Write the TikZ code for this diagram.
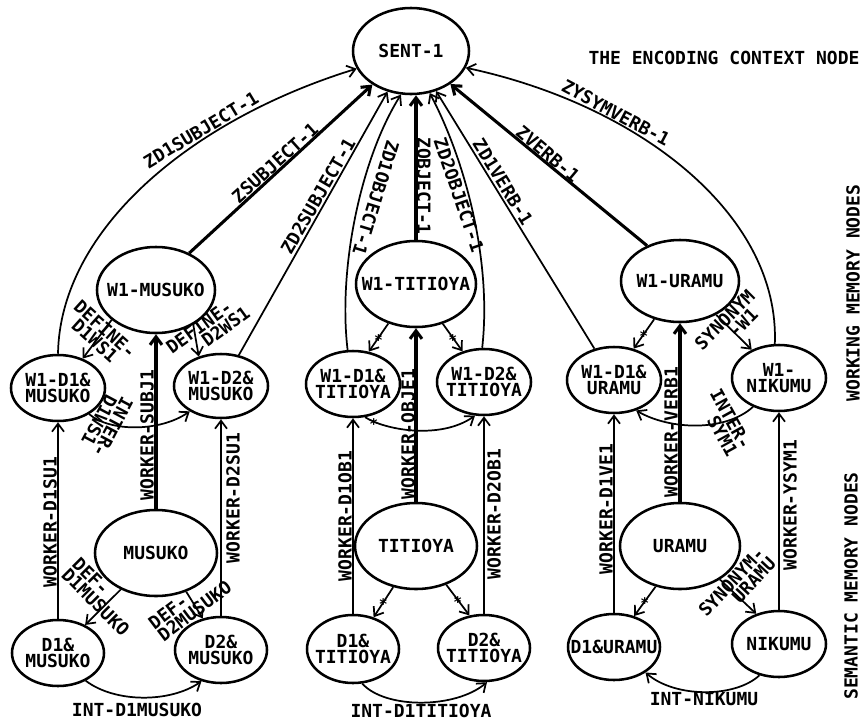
\documentclass[tikz,border=0pt]{standalone}
\usepackage{fontspec}
\setmonofont{DejaVu Sans Mono}
\usetikzlibrary{arrows.meta,shapes.geometric}
\begin{document}
\begin{tikzpicture}[x=0.75pt,y=-0.75pt,
  every node/.style={font=\ttfamily\bfseries\fontsize{13.5}{11.5}\selectfont},
  en/.style 2 args={ellipse,draw,line width=1.9pt,minimum width=#1*0.75pt,minimum height=#2*0.75pt,inner xsep=-40pt,inner ysep=-15pt,align=center},
  ln/.style={line width=1.3pt},
  tk/.style={line width=2.3pt},
  arr/.style={-{Straight Barb[length=6pt,width=9pt]}},
  lab/.style={inner sep=0pt,align=center},
  labl/.style={inner sep=0pt,align=left},
  labr/.style={inner sep=0pt,align=right},
  star/.style={inner sep=0pt,yshift=-1.5pt,font=\ttfamily\bfseries\fontsize{11}{11}\selectfont}
]
\useasboundingbox (0,0) rectangle (864,722);

% nodes
\node[en={116}{86}] (sent) at (411,51) {SENT-1};
\node[lab] (title) at (724,58) {THE ENCODING CONTEXT NODE};

\node[en={118}{86}] (w1m) at (156,290) {W1-MUSUKO};
\node[en={94}{66}] (w1d1m) at (58,388) {W1-D1\&\\MUSUKO};
\node[en={94}{64}] (w1d2m) at (221,386) {W1-D2\&\\MUSUKO};
\node[en={120}{86}] (w1t) at (416,284) {W1-TITIOYA};
\node[en={94}{66}] (w1d1t) at (353,384) {W1-D1\&\\TITIOYA};
\node[en={94}{66}] (w1d2t) at (484,382) {W1-D2\&\\TITIOYA};
\node[en={118}{82}] (w1u) at (680,281) {W1-URAMU};
\node[en={94}{66}] (w1d1u) at (614,380) {W1-D1\&\\URAMU};
\node[en={94}{66}] (w1n) at (779,378) {W1-\\NIKUMU};

\node[en={122}{86}] (musuko) at (156,553) {MUSUKO};
\node[en={92}{66}] (d1m) at (58,653) {D1\&\\MUSUKO};
\node[en={92}{66}] (d2m) at (221,650) {D2\&\\MUSUKO};
\node[en={122}{86}] (titioya) at (416,546) {TITIOYA};
\node[en={92}{68}] (d1t) at (353,649) {D1\&\\TITIOYA};
\node[en={92}{66}] (d2t) at (484,648) {D2\&\\TITIOYA};
\node[en={120}{86}] (uramu) at (680,546) {URAMU};
\node[en={92}{66}] (d1u) at (614,647) {D1\&URAMU};
\node[en={94}{66}] (nikumu) at (779,644) {NIKUMU};

\node[lab,rotate=90] (wmn) at (853,293) {WORKING MEMORY NODES};
\node[lab,rotate=90] (smn) at (851,586) {SEMANTIC MEMORY NODES};

% edges to the context node
\draw[ln,arr] (w1d1m.north) .. controls (60,230) and (190,120) .. (sent.198);
\draw[tk,arr] (w1m.48) -- (sent.221);
\draw[ln,arr] (w1d2m.60) -- (sent.240);
\draw[ln,arr] (w1d1t.99) .. controls (338,270) and (360,160) .. (sent.257);
\draw[tk,arr] (w1t.north) -- (w1t.north |- sent.south);
\draw[ln,arr] (w1d2t.93) .. controls (492,260) and (465,160) .. (sent.294);
\draw[ln,arr] (w1d1u.122) -- (sent.302);
\draw[tk,arr] (w1u.133) -- (sent.320);
\draw[ln,arr] (w1n.97) .. controls (780,215) and (640,105) .. (sent.343);

\node[lab,rotate=31] (lzd1s) at (201,130) {ZD1SUBJECT-1};
\node[lab,rotate=42] (lzs) at (275,163) {ZSUBJECT-1};
\node[lab,rotate=60] (lzd2s) at (318,196) {ZD2SUBJECT-1};
\node[lab,rotate=-107] (lzd1o) at (376,198) {ZD1OBJECT-1};
\node[lab,rotate=-90] (lzo) at (424,186) {ZOBJECT-1};
\node[lab,rotate=-71] (lzd2o) at (459,195) {ZD2OBJECT-1};
\node[lab,rotate=-58.5] (lzd1v) at (503,182) {ZD1VERB-1};
\node[lab,rotate=-40] (lzv) at (548,154) {ZVERB-1};
\node[lab,rotate=-28] (lzy) at (616,113) {ZYSYMVERB-1};

% working memory edges
\draw[ln,arr] (w1m.214) -- (w1d1m.50);
\draw[ln,arr] (w1m.317) -- (w1d2m.127);
\draw[ln,arr] (w1d1m.-40) .. controls (110,432) and (160,432) .. (w1d2m.219);
\node[lab,rotate=-42] (ldef1) at (100,335) {DEFINE-\\D1WS1};
\node[labl,rotate=36] (ldef2) at (208,330) {DEFINE-\\\phantom{DEF}D2WS1};
\node[lab,rotate=-118] (lint1) at (106,424) {INTER-\\D1WS1};

\draw[ln,arr] (w1t.235) -- node[star] (s1) {*} (w1d1t.64);
\draw[ln,arr] (w1t.304) -- node[star] (s2) {*} (w1d2t.125);
\draw[ln,arr] (w1d1t.290) .. controls (385,430) and (440,440) .. node[star,pos=0.12] (s3) {*} (w1d2t.255);

\draw[ln,arr] (w1u.236) -- node[star] (s4) {*} (w1d1u.58);
\draw[ln,arr] (w1u.317) -- (w1n.134);
\draw[ln,arr] (w1n.228) .. controls (725,432) and (670,430) .. (w1d1u.306);
\node[labl,rotate=45] (lsyn1) at (730,325) {SYNONYM\\\phantom{SYN}-W1};
\node[labr,rotate=-61] (lint2) at (724,423) {INTER-\\SYM1};

% worker links
\draw[ln,arr] (d1m) -- (w1d1m);
\draw[tk,arr] (musuko) -- (w1m);
\draw[ln,arr] (d2m) -- (w1d2m);
\draw[ln,arr] (d1t) -- (w1d1t);
\draw[tk,arr] (titioya) -- (w1t);
\draw[ln,arr] (d2t) -- (w1d2t);
\draw[ln,arr] (d1u) -- (w1d1u);
\draw[tk,arr] (uramu) -- (w1u);
\draw[ln,arr] (nikumu) -- (w1n);

\node[lab,rotate=90] (lw1) at (50,522) {WORKER-D1SU1};
\node[lab,rotate=90] (lw2) at (147,435) {WORKER-SUBJ1};
\node[lab,rotate=90] (lw3) at (233,498) {WORKER-D2SU1};
\node[lab,rotate=90] (lw4) at (345,516) {WORKER-D1OB1};
\node[lab,rotate=90] (lw5) at (408,434) {WORKER-OBJE1};
\node[lab,rotate=90] (lw6) at (494,514) {WORKER-D2OB1};
\node[lab,rotate=90] (lw7) at (606,509) {WORKER-D1VE1};
\node[lab,rotate=90] (lw8) at (671,432) {WORKER-VERB1};
\node[lab,rotate=90] (lw9) at (790,505) {WORKER-YSYM1};

% semantic memory edges
\draw[ln,arr] (musuko.226) -- (d1m.46);
\draw[ln,arr] (musuko.308) -- (d2m.120);
\draw[ln,arr] (d1m.315) .. controls (115,703) and (170,703) .. (d2m.238);
\node[labl,rotate=-45] (ldd1) at (101,597) {DEF-\\D1MUSUKO};
\node[labl,rotate=37] (ldd2) at (190,605) {DEF-\\D2MUSUKO};
\node[lab] (lint3) at (137,710) {INT-D1MUSUKO};

\draw[ln,arr] (titioya.241) -- node[star] (s5) {*} (d1t.57);
\draw[ln,arr] (titioya.308) -- node[star] (s6) {*} (d2t.114);
\draw[ln,arr] (d1t.285) .. controls (385,709) and (455,709) .. (d2t.275);
\node[lab] (lint4) at (421,711) {INT-D1TITIOYA};

\draw[ln,arr] (uramu.239) -- node[star] (s7) {*} (d1u.57);
\draw[ln,arr] (uramu.320) -- (nikumu.127);
\draw[ln,arr] (nikumu.238) .. controls (735,698) and (675,698) .. (d1u.321);
\node[labr,rotate=47] (lsyn2) at (737,587) {SYNONYM-\\URAMU};
\node[lab] (lint5) at (704,699) {INT-NIKUMU};
\end{tikzpicture}
\end{document}
